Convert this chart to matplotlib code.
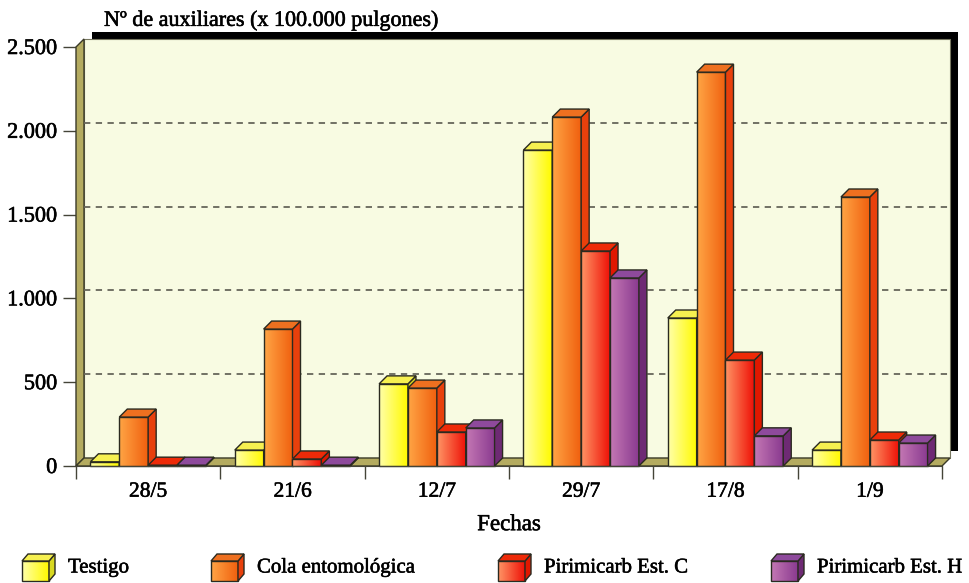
import numpy as np
import matplotlib
matplotlib.use('Agg')
import matplotlib.pyplot as plt
import matplotlib.patheffects as pe
from matplotlib.colors import LinearSegmentedColormap
from matplotlib.patches import Polygon, Rectangle

plt.rcParams['font.family'] = ['Liberation Serif', 'DejaVu Serif']

fechas = ['28/5', '21/6', '12/7', '29/7', '17/8', '1/9']
testigo = [25, 95, 490, 1885, 883, 95]
cola = [292, 817, 465, 2082, 2350, 1605]
est_c = [5, 42, 203, 1283, 632, 155]
est_h = [5, 5, 227, 1122, 180, 137]
nombres = ['Testigo', 'Cola entomológica', 'Pirimicarb Est. C', 'Pirimicarb Est. H']
y_ticks = [0, 500, 1000, 1500, 2000, 2500]
y_labels = ['0', '500', '1.000', '1.500', '2.000', '2.500']

# front colour left, front colour right, side, top
colores = [
    ('#FFFFA8', '#FFFA00', '#D8D820', '#F6F050'),
    ('#FFA545', '#F0600F', '#E8400C', '#EE7020'),
    ('#FF9565', '#EE1208', '#E01800', '#EE2A08'),
    ('#C478B4', '#8A3A90', '#6E2A74', '#8E4A9C'),
]
linea = '#2a2a20'
grueso = [pe.withStroke(linewidth=0.4, foreground='black')]

W, H = 970, 583
fig = plt.figure(figsize=(W / 100, H / 100), dpi=100)

# pixel layer under the chart, for the black frame and the legend
bg = fig.add_axes([0, 0, 1, 1], zorder=0)
bg.set_xlim(0, W)
bg.set_ylim(H, 0)
bg.axis('off')
bg.add_patch(Rectangle((92, 32), 866, 8, color='black', lw=0))
bg.add_patch(Rectangle((950, 32), 8, 419, color='black', lw=0))

ax = fig.add_axes([76 / W, (H - 466) / H, 866 / W, 419 / H], zorder=1)
ax.patch.set_visible(False)
ax.set_xlim(0, 6)
ax.set_ylim(0, 2500)
ax.set_autoscale_on(False)

dx = 8 / (866 / 6)
dy = 8 / (419 / 2500)


def caja(a, x0, x1, y0, y1, dpx, dpy, col, z):
    c1, c2, lado, tapa = col
    cmap = LinearSegmentedColormap.from_list('g', [c1, c2])
    a.imshow(np.linspace(0, 1, 64).reshape(1, -1), extent=(x0, x1, min(y0, y1), max(y0, y1)),
             cmap=cmap, aspect='auto', zorder=z, clip_on=False,
             origin='lower', interpolation='bilinear')
    a.add_patch(Rectangle((x0, y0), x1 - x0, y1 - y0, fill=False, ec=linea, lw=1, zorder=z, clip_on=False))
    a.add_patch(Polygon([(x1, y0), (x1 + dpx, y0 + dpy), (x1 + dpx, y1 + dpy), (x1, y1)],
                        fc=lado, ec=linea, lw=1, zorder=z, clip_on=False))
    a.add_patch(Polygon([(x0, y1), (x1, y1), (x1 + dpx, y1 + dpy), (x0 + dpx, y1 + dpy)],
                        fc=tapa, ec=linea, lw=1, zorder=z, clip_on=False))


# back wall, side wall and floor
ax.add_patch(Rectangle((dx, dy), 6, 2500, fc='#F8FBE2', ec='#777760', lw=0.8, zorder=1, clip_on=False))
ax.add_patch(Polygon([(0, 0), (dx, dy), (dx, 2500 + dy), (0, 2500)],
                     fc='#B4AB60', ec='#3a3a28', lw=1, zorder=2, clip_on=False))
ax.add_patch(Polygon([(0, 0), (6, 0), (6 + dx, dy), (dx, dy)],
                     fc='#B4AB60', ec='#3a3a28', lw=1, zorder=2, clip_on=False))
for v in y_ticks[1:-1]:
    ax.plot([dx, 6 + dx], [v + dy, v + dy], color='#66665a', lw=1.3,
            dashes=(3.5, 3), zorder=2, clip_on=False)

series = [testigo, cola, est_c, est_h]
ancho = 0.2
z = 3
for g in range(len(fechas)):
    for s in range(4):
        x0 = g + 0.1 + s * ancho
        caja(ax, x0, x0 + ancho, 0, series[s][g], dx, dy, colores[s], z)
        z += 1

for lado in ['top', 'right']:
    ax.spines[lado].set_visible(False)
ax.spines['left'].set_visible(False)
ax.spines['bottom'].set_color('#444438')
ax.spines['bottom'].set_zorder(100)
ax.set_yticks(y_ticks)
ax.set_yticklabels(y_labels, fontsize=16)
ax.set_xticks(range(7))
ax.set_xticklabels([])
ax.set_xticks(np.arange(6) + 0.5, minor=True)
ax.set_xticklabels(fechas, minor=True, fontsize=15.5)
ax.tick_params(axis='y', length=9.5, width=1, color='#444438', pad=4)
ax.tick_params(axis='x', which='major', length=9.5, width=1, color='#444438')
ax.tick_params(axis='x', which='minor', length=0, pad=12)
ax.set_xlabel('Fechas', fontsize=16.5, labelpad=9)

textos = ax.get_yticklabels() + ax.get_xticklabels(minor=True) + [ax.xaxis.label]
textos.append(fig.text(104 / W, 1 - 21 / H, 'Nº de auxiliares (x 100.000 pulgones)', fontsize=15.9, va='center'))

# legend
leg_x = [22, 211, 498, 771]
for i, nombre in enumerate(nombres):
    x = leg_x[i]
    caja(bg, x, x + 27, 581, 561, 6, -7, colores[i], 5)
    textos.append(bg.text(x + 46, 568, nombre, fontsize=15, va='center'))
bg.set_xlim(0, W)
bg.set_ylim(H, 0)

for t in textos:
    t.set_path_effects(grueso)

fig.savefig('out.png', dpi=100)
